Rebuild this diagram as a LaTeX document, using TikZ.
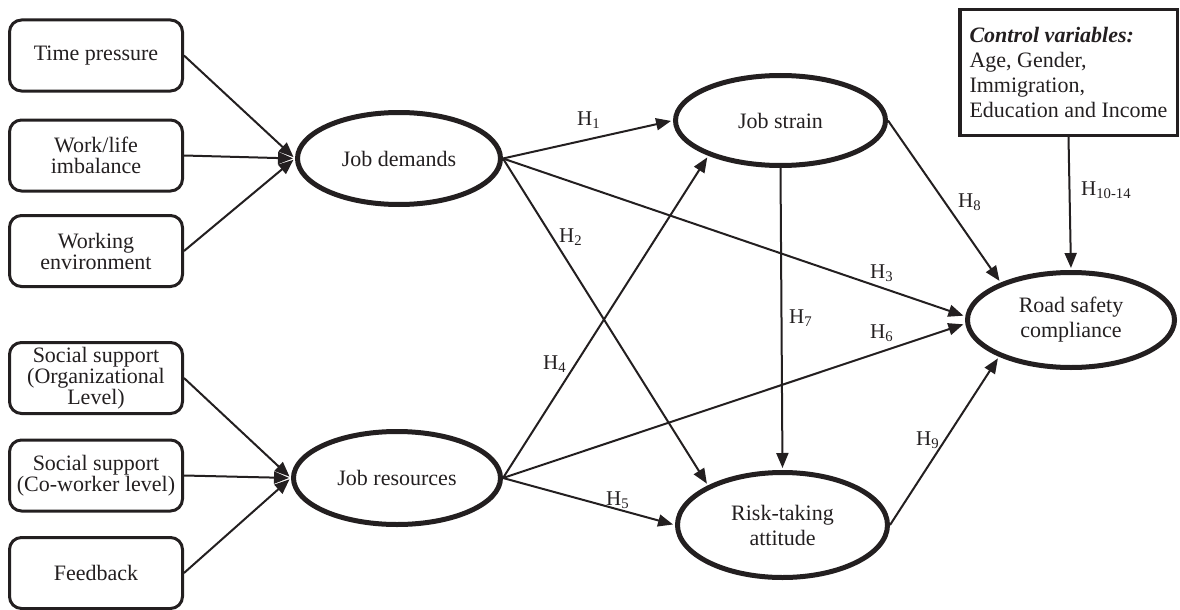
\documentclass[tikz,border=0pt]{standalone}
\usepackage{fontspec}
\setmainfont{Liberation Serif}
\usetikzlibrary{shapes.geometric,arrows.meta}
\definecolor{ink}{HTML}{231F20}
\begin{document}
\begin{tikzpicture}[x=1pt,y=-1pt,
  every node/.style={text=ink},
  obs/.style={draw=ink, line width=3pt, rounded corners=12pt, minimum width=173pt, minimum height=71pt, inner sep=0pt, align=center, font=\fontsize{22}{21}\selectfont},
  lat/.style={ellipse, draw=ink, line width=5pt, inner sep=0pt, align=center, font=\fontsize{22}{25}\selectfont},
  conn/.style={draw=ink, line width=2pt, shorten >=2pt, -{Triangle[length=15pt,width=12pt]}},
  hyp/.style={anchor=base west, inner sep=0pt, font=\fontsize{21}{21}\selectfont}]
\useasboundingbox (0,0) rectangle (1180,610);

% observed variables
\node[obs] (tp) at (96,55.5) {Time pressure};
\node[obs] (wl) at (96,155.5) {Work/life\\imbalance};
\node[obs] (we) at (96,251) {Working\\environment};
\node[obs] (so) at (96,378) {Social support\\(Organizational\\Level)};
\node[obs] (sc) at (96,475.5) {Social support\\(Co-worker level)};
\node[obs] (fb) at (96,573) {Feedback};

% latent variables
\node[lat, minimum width=203pt, minimum height=92pt] (jd) at (399,158.5) {Job demands};
\node[lat, minimum width=207pt, minimum height=93pt] (jr) at (397,478) {Job resources};
\node[lat, minimum width=210pt, minimum height=90pt] (js) at (780.5,120.5) {Job strain};
\node[lat, minimum width=210pt, minimum height=105pt] (rt) at (782.5,525) {Risk-taking\\attitude};
\node[lat, minimum width=207pt, minimum height=95pt] (rs) at (1071,320) {Road safety\\compliance};

% control variables
\node[draw=ink, line width=3.5pt, minimum width=217.5pt, minimum height=125.5pt, inner sep=0pt, align=left, font=\fontsize{22}{25}\selectfont] (cv) at (1068.5,72.5)
  {\textbf{\textit{Control variables:}}\\Age, Gender,\\Immigration,\\Education and Income};

% measurement connectors
\draw[conn] (tp.east) -- (jd.west);
\draw[conn] (wl.east) -- (jd.west);
\draw[conn] (we.east) -- (jd.west);
\draw[conn] (so.east) -- (jr.west);
\draw[conn] (sc.east) -- (jr.west);
\draw[conn] (fb.east) -- (jr.west);

% structural connectors
\draw[conn] (jd.east) -- (js.west);
\draw[conn] (jd.east) -- (rt.152);
\draw[conn] (jd.east) -- (rs.178);
\draw[conn] (jr.east) -- (js.206);
\draw[conn] (jr.east) -- (rt.west);
\draw[conn] (jr.east) -- (rs.182);
\draw[conn] (js.south) -- (rt.north);
\draw[conn] (js.east) -- (rs.152);
\draw[conn] (rt.east) -- (rs.207);
\draw[conn] (cv.south) -- (rs.north);

% hypothesis labels
\node[hyp] (h1) at (577,125) {H\textsubscript{1}};
\node[hyp] (h2) at (559,242) {H\textsubscript{2}};
\node[hyp] (h3) at (870,278) {H\textsubscript{3}};
\node[hyp] (h4) at (543,369) {H\textsubscript{4}};
\node[hyp] (h5) at (606,505) {H\textsubscript{5}};
\node[hyp] (h6) at (870,338) {H\textsubscript{6}};
\node[hyp] (h7) at (789,323) {H\textsubscript{7}};
\node[hyp] (h8) at (958,207) {H\textsubscript{8}};
\node[hyp] (h9) at (916,445) {H\textsubscript{9}};
\node[hyp] (h10) at (1081,195) {H\textsubscript{10-14}};
\end{tikzpicture}
\end{document}
